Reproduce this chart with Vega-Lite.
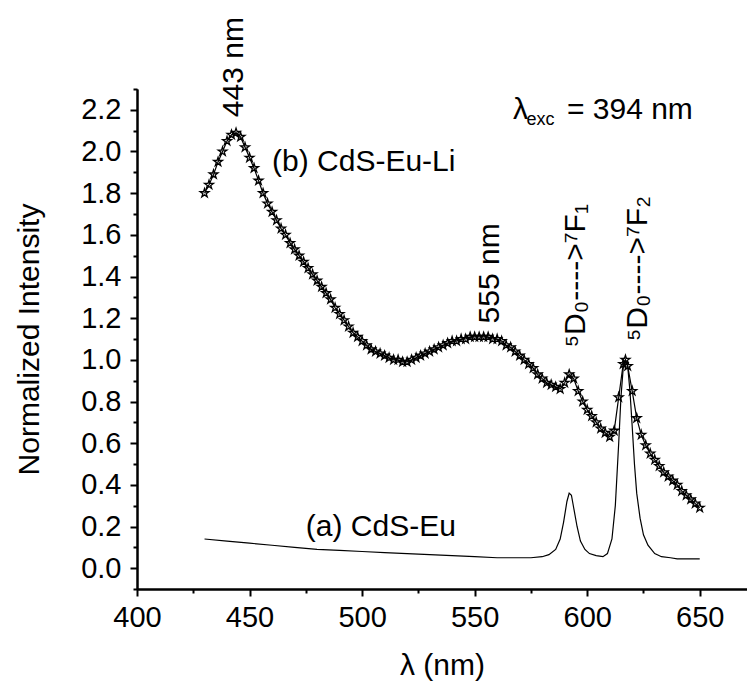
{
  "$schema": "https://vega.github.io/schema/vega-lite/v6.json",
  "autosize": "none",
  "width": 610,
  "height": 500,
  "padding": {"left": 137, "top": 89, "right": 0, "bottom": 95},
  "background": "white",
  "config": {
    "view": {"stroke": null},
    "font": "Liberation Sans",
    "axis": {
      "domainColor": "black", "domainWidth": 2, "tickColor": "black", "tickWidth": 2,
      "labelColor": "black", "labelFont": "Liberation Sans", "labelFontSize": 29,
      "titleColor": "black", "titleFont": "Liberation Sans", "titleFontSize": 30, "titleFontWeight": "normal",
      "grid": false, "labelFlush": false, "labelOverlap": false
    },
    "text": {"font": "Liberation Sans", "fontSize": 30, "color": "black"}
  },
  "resolve": {"axis": {"x": "independent", "y": "independent"}},
  "datasets": {
    "a": [
      {"wl": 430, "v": 0.14}, {"wl": 440, "v": 0.13}, {"wl": 450, "v": 0.12}, {"wl": 460, "v": 0.11},
      {"wl": 470, "v": 0.1}, {"wl": 480, "v": 0.09}, {"wl": 490, "v": 0.085}, {"wl": 500, "v": 0.08},
      {"wl": 510, "v": 0.075}, {"wl": 520, "v": 0.07}, {"wl": 530, "v": 0.065}, {"wl": 540, "v": 0.06},
      {"wl": 550, "v": 0.055}, {"wl": 560, "v": 0.05}, {"wl": 570, "v": 0.05}, {"wl": 575, "v": 0.05},
      {"wl": 580, "v": 0.055}, {"wl": 583, "v": 0.065}, {"wl": 586, "v": 0.09}, {"wl": 588, "v": 0.14},
      {"wl": 589.5, "v": 0.22}, {"wl": 591, "v": 0.32}, {"wl": 592, "v": 0.36}, {"wl": 593, "v": 0.35},
      {"wl": 594, "v": 0.29}, {"wl": 595.5, "v": 0.2}, {"wl": 597, "v": 0.13}, {"wl": 599, "v": 0.09},
      {"wl": 601, "v": 0.07}, {"wl": 604, "v": 0.06}, {"wl": 607, "v": 0.055}, {"wl": 609, "v": 0.07},
      {"wl": 611, "v": 0.14}, {"wl": 612.5, "v": 0.3}, {"wl": 614, "v": 0.6}, {"wl": 615, "v": 0.82},
      {"wl": 616, "v": 0.96}, {"wl": 617, "v": 1.0}, {"wl": 618, "v": 0.97}, {"wl": 619, "v": 0.85},
      {"wl": 620, "v": 0.68}, {"wl": 621, "v": 0.5}, {"wl": 622, "v": 0.36}, {"wl": 623.5, "v": 0.24},
      {"wl": 625, "v": 0.16}, {"wl": 627, "v": 0.11}, {"wl": 630, "v": 0.07}, {"wl": 633, "v": 0.055},
      {"wl": 637, "v": 0.05}, {"wl": 640, "v": 0.045}, {"wl": 645, "v": 0.045}, {"wl": 650, "v": 0.045}
    ],
    "b": [
      {"wl": 430, "v": 1.8}, {"wl": 432, "v": 1.84}, {"wl": 434, "v": 1.89}, {"wl": 436, "v": 1.95},
      {"wl": 438, "v": 2.0}, {"wl": 440, "v": 2.05}, {"wl": 442, "v": 2.08}, {"wl": 444, "v": 2.09},
      {"wl": 446, "v": 2.07}, {"wl": 448, "v": 2.02}, {"wl": 450, "v": 1.97}, {"wl": 452, "v": 1.92},
      {"wl": 454, "v": 1.86}, {"wl": 456, "v": 1.8}, {"wl": 458, "v": 1.75}, {"wl": 460, "v": 1.71},
      {"wl": 462, "v": 1.67}, {"wl": 464, "v": 1.63}, {"wl": 466, "v": 1.6}, {"wl": 468, "v": 1.56},
      {"wl": 470, "v": 1.53}, {"wl": 472, "v": 1.5}, {"wl": 474, "v": 1.47}, {"wl": 476, "v": 1.44},
      {"wl": 478, "v": 1.41}, {"wl": 480, "v": 1.38}, {"wl": 482, "v": 1.35}, {"wl": 484, "v": 1.32},
      {"wl": 486, "v": 1.29}, {"wl": 488, "v": 1.25}, {"wl": 490, "v": 1.22}, {"wl": 492, "v": 1.19},
      {"wl": 494, "v": 1.16}, {"wl": 496, "v": 1.13}, {"wl": 498, "v": 1.11}, {"wl": 500, "v": 1.09},
      {"wl": 502, "v": 1.07}, {"wl": 504, "v": 1.05}, {"wl": 506, "v": 1.04}, {"wl": 508, "v": 1.03},
      {"wl": 510, "v": 1.02}, {"wl": 512, "v": 1.01}, {"wl": 514, "v": 1.0}, {"wl": 516, "v": 1.0},
      {"wl": 518, "v": 0.99}, {"wl": 520, "v": 0.99}, {"wl": 522, "v": 1.0}, {"wl": 524, "v": 1.01},
      {"wl": 526, "v": 1.02}, {"wl": 528, "v": 1.03}, {"wl": 530, "v": 1.04}, {"wl": 532, "v": 1.05},
      {"wl": 534, "v": 1.06}, {"wl": 536, "v": 1.07}, {"wl": 538, "v": 1.08}, {"wl": 540, "v": 1.09},
      {"wl": 542, "v": 1.09}, {"wl": 544, "v": 1.1}, {"wl": 546, "v": 1.1}, {"wl": 548, "v": 1.11},
      {"wl": 550, "v": 1.11}, {"wl": 552, "v": 1.11}, {"wl": 554, "v": 1.11}, {"wl": 556, "v": 1.11},
      {"wl": 558, "v": 1.1}, {"wl": 560, "v": 1.1}, {"wl": 562, "v": 1.09}, {"wl": 564, "v": 1.07},
      {"wl": 566, "v": 1.06}, {"wl": 568, "v": 1.04}, {"wl": 570, "v": 1.02}, {"wl": 572, "v": 1.0},
      {"wl": 574, "v": 0.98}, {"wl": 576, "v": 0.96}, {"wl": 578, "v": 0.93}, {"wl": 580, "v": 0.91},
      {"wl": 582, "v": 0.89}, {"wl": 584, "v": 0.88}, {"wl": 586, "v": 0.87}, {"wl": 588, "v": 0.86},
      {"wl": 590, "v": 0.89}, {"wl": 592, "v": 0.93}, {"wl": 594, "v": 0.91}, {"wl": 596, "v": 0.85},
      {"wl": 598, "v": 0.8}, {"wl": 600, "v": 0.76}, {"wl": 602, "v": 0.73}, {"wl": 604, "v": 0.7},
      {"wl": 606, "v": 0.67}, {"wl": 608, "v": 0.65}, {"wl": 610, "v": 0.63}, {"wl": 612, "v": 0.66},
      {"wl": 614, "v": 0.82}, {"wl": 616, "v": 0.98}, {"wl": 617, "v": 1.0}, {"wl": 618, "v": 0.97},
      {"wl": 620, "v": 0.85}, {"wl": 622, "v": 0.72}, {"wl": 624, "v": 0.64}, {"wl": 626, "v": 0.59},
      {"wl": 628, "v": 0.55}, {"wl": 630, "v": 0.52}, {"wl": 632, "v": 0.49}, {"wl": 634, "v": 0.46},
      {"wl": 636, "v": 0.44}, {"wl": 638, "v": 0.42}, {"wl": 640, "v": 0.4}, {"wl": 642, "v": 0.37},
      {"wl": 644, "v": 0.35}, {"wl": 646, "v": 0.33}, {"wl": 648, "v": 0.31}, {"wl": 650, "v": 0.29}
    ]
  },
  "layer": [
    {
      "data": {"name": "a"},
      "mark": {"type": "line", "color": "black", "strokeWidth": 1.2},
      "encoding": {
        "x": {"field": "wl", "type": "quantitative", "title": "λ (nm)",
          "scale": {"domain": [400, 671], "nice": false, "zero": false},
          "axis": {"orient": "bottom", "values": [400, 450, 500, 550, 600, 650], "tickSize": 7,
            "labelPadding": 7, "titleY": 76, "titleBaseline": "middle"}},
        "y": {"field": "v", "type": "quantitative", "title": "Normalized Intensity",
          "scale": {"domain": [-0.1, 2.3], "nice": false, "zero": false},
          "axis": {"orient": "left", "values": [0, 0.2, 0.4, 0.6, 0.8, 1.0, 1.2, 1.4, 1.6, 1.8, 2.0, 2.2],
            "format": ".1f", "tickSize": 7, "labelPadding": 9, "titleX": -108, "titleBaseline": "middle"}}
      }
    },
    {
      "data": {"name": "b"},
      "mark": {"type": "line", "color": "black", "strokeWidth": 1.2},
      "encoding": {
        "x": {"field": "wl", "type": "quantitative",
          "axis": {"orient": "bottom", "values": [425, 475, 525, 575, 625], "tickSize": 4, "labels": false, "title": null}},
        "y": {"field": "v", "type": "quantitative",
          "axis": {"orient": "left", "values": [-0.1, 0.1, 0.3, 0.5, 0.7, 0.9, 1.1, 1.3, 1.5, 1.7, 1.9, 2.1, 2.3], "tickSize": 4, "labels": false, "title": null}}
      }
    },
    {
      "data": {"name": "b"},
      "mark": {"type": "point", "shape": "M0,-1L0.2245,-0.309L0.951,-0.309L0.3633,0.118L0.5878,0.809L0,0.382L-0.5878,0.809L-0.3633,0.118L-0.951,-0.309L-0.2245,-0.309Z",
        "filled": false, "stroke": "black", "strokeWidth": 1.3, "size": 85, "opacity": 1},
      "encoding": {"x": {"field": "wl", "type": "quantitative", "axis": null}, "y": {"field": "v", "type": "quantitative", "axis": null}}
    },
    {
      "data": {"values": [{}]},
      "mark": {"type": "text", "text": "443 nm", "angle": 270, "align": "left", "baseline": "middle"},
      "encoding": {"x": {"datum": 443, "type": "quantitative", "axis": null}, "y": {"datum": 2.165, "type": "quantitative", "axis": null}}
    },
    {
      "data": {"values": [{}]},
      "mark": {"type": "text", "text": "555 nm", "angle": 270, "align": "left", "baseline": "middle"},
      "encoding": {"x": {"datum": 557, "type": "quantitative", "axis": null}, "y": {"datum": 1.175, "type": "quantitative", "axis": null}}
    },
    {
      "data": {"values": [{}]},
      "mark": {"type": "text", "text": "⁵D₀---->⁷F₁", "angle": 270, "align": "left", "baseline": "middle"},
      "encoding": {"x": {"datum": 595, "type": "quantitative", "axis": null}, "y": {"datum": 1.06, "type": "quantitative", "axis": null}}
    },
    {
      "data": {"values": [{}]},
      "mark": {"type": "text", "text": "⁵D₀---->⁷F₂", "angle": 270, "align": "left", "baseline": "middle"},
      "encoding": {"x": {"datum": 622.5, "type": "quantitative", "axis": null}, "y": {"datum": 1.09, "type": "quantitative", "axis": null}}
    },
    {
      "data": {"values": [{}]},
      "mark": {"type": "text", "text": "(b) CdS-Eu-Li", "align": "left", "baseline": "middle"},
      "encoding": {"x": {"datum": 460, "type": "quantitative", "axis": null}, "y": {"datum": 1.95, "type": "quantitative", "axis": null}}
    },
    {
      "data": {"values": [{}]},
      "mark": {"type": "text", "text": "(a) CdS-Eu", "align": "left", "baseline": "middle"},
      "encoding": {"x": {"datum": 475, "type": "quantitative", "axis": null}, "y": {"datum": 0.2, "type": "quantitative", "axis": null}}
    },
    {
      "data": {"values": [{}]},
      "mark": {"type": "text", "text": "λ", "align": "left", "baseline": "middle"},
      "encoding": {"x": {"datum": 567, "type": "quantitative", "axis": null}, "y": {"datum": 2.2, "type": "quantitative", "axis": null}}
    },
    {
      "data": {"values": [{}]},
      "mark": {"type": "text", "text": "exc", "align": "left", "baseline": "middle", "fontSize": 18, "dy": 10},
      "encoding": {"x": {"datum": 573, "type": "quantitative", "axis": null}, "y": {"datum": 2.2, "type": "quantitative", "axis": null}}
    },
    {
      "data": {"values": [{}]},
      "mark": {"type": "text", "text": "= 394 nm", "align": "left", "baseline": "middle"},
      "encoding": {"x": {"datum": 591, "type": "quantitative", "axis": null}, "y": {"datum": 2.2, "type": "quantitative", "axis": null}}
    }
  ]
}
